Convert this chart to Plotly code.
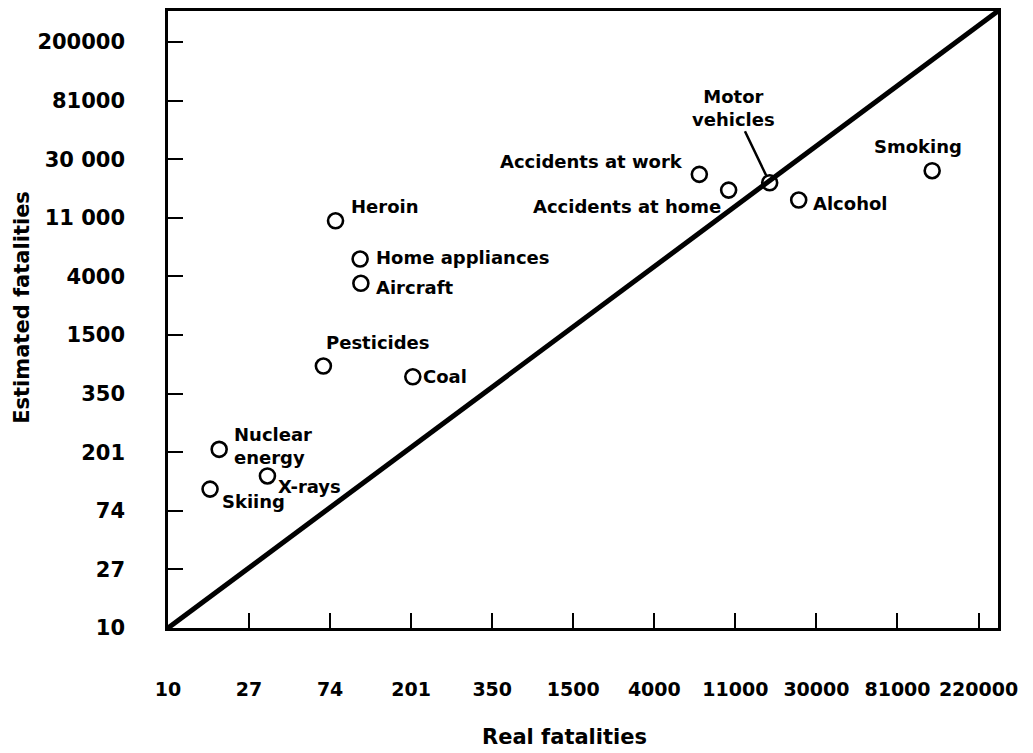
import math
import plotly.graph_objects as go

# ---- data ----
hazards = ["Heroin", "Home appliances", "Aircraft", "Pesticides", "Coal",
           "Accidents at work", "Accidents at home", "Motor vehicles",
           "Smoking", "Alcohol", "Nuclear energy", "X-rays", "Skiing"]
real_fatalities = [79, 107, 108, 68, 205, 7030, 10090, 16740, 124300, 23950, 18.8, 34.1, 16.8]
estimated_fatalities = [10430, 5430, 3590, 874, 728, 23030, 17600, 19960, 24500, 14860, 211, 134, 107]

x_tick_labels = ["10", "27", "74", "201", "350", "1500", "4000", "11000", "30000", "81000", "220000"]
y_tick_labels = ["10", "27", "74", "201", "350", "1500", "4000", "11 000", "30 000", "81000", "200000"]
# ticks are at 10*e^k (natural-log spaced scale)
tick_values = [10 * math.e ** k for k in range(11)]

# label placement (styling): anchor, xshift, yshift
label_style = {
    "Heroin": ("left", 13, 14),
    "Home appliances": ("left", 14, 2),
    "Aircraft": ("left", 13, -4),
    "Pesticides": ("left", 1, 24),
    "Coal": ("left", 8, 0),
    "Accidents at work": ("right", -14, 13),
    "Accidents at home": ("right", -6, -16),
    "Smoking": ("center", -14, 24),
    "Alcohol": ("left", 12, -3),
    "Nuclear energy": ("left", 13, 3),
    "X-rays": ("left", 9, -11),
    "Skiing": ("left", 10, -12),
}

FONT = "DejaVu Sans"
LBL = dict(family=FONT, size=18, color="black", weight="bold")
fig = go.Figure()

fig.add_trace(go.Scatter(
    x=real_fatalities, y=estimated_fatalities, mode="markers",
    marker=dict(symbol="circle-open", size=15, color="black", line=dict(width=2.6)),
    hoverinfo="text", text=hazards, showlegend=False,
))

# diagonal reference line (corner to corner)
fig.add_shape(type="line", xref="paper", yref="paper", x0=0, y0=0, x1=1, y1=1,
              line=dict(color="black", width=5), layer="below")

annos = []
for name, xv, yv in zip(hazards, real_fatalities, estimated_fatalities):
    if name == "Motor vehicles":
        annos.append(dict(x=math.log10(xv), y=math.log10(yv), xref="x", yref="y",
                          text="Motor<br>vehicles", showarrow=True, arrowhead=0,
                          arrowwidth=2.5, arrowcolor="black", ax=-36, ay=-75,
                          standoff=8, font=LBL, align="center"))
        continue
    anchor, xs, ys = label_style[name]
    text = "Nuclear<br>energy" if name == "Nuclear energy" else name
    annos.append(dict(x=math.log10(xv), y=math.log10(yv), xref="x", yref="y",
                      text=text, showarrow=False, xanchor=anchor, yanchor="middle",
                      xshift=xs, yshift=ys, align="left", font=LBL))

# axis titles
TTL = dict(family=FONT, size=21, color="black", weight="bold")
annos.append(dict(text="Real fatalities", xref="paper", yref="paper", x=0.478, y=0,
                  yshift=-109, showarrow=False, xanchor="center", yanchor="middle", font=TTL))
annos.append(dict(text="Estimated fatalities", xref="paper", yref="paper", x=0, y=0.519,
                  xshift=-146, showarrow=False, xanchor="center", yanchor="middle",
                  textangle=-90, font=TTL))
fig.update_layout(annotations=annos)

axis_common = dict(type="log", showgrid=False, zeroline=False, showline=True,
                   linecolor="black", linewidth=2.5, mirror=True,
                   ticks="inside", ticklen=15, tickwidth=2, tickcolor="black",
                   tickmode="array", tickvals=tick_values, automargin=False,
                   tickangle=0)

fig.update_xaxes(**axis_common, ticktext=x_tick_labels,
                 range=[1, 1 + 10.24 * math.log10(math.e)],
                 ticklabelstandoff=42,
                 tickfont=dict(family=FONT, size=19, color="black", weight="bold"))
fig.update_yaxes(**axis_common, ticktext=y_tick_labels,
                 range=[1, 1 + 10.53 * math.log10(math.e)],
                 ticklabelstandoff=36,
                 tickfont=dict(family=FONT, size=21, color="black", weight="bold"))

# page body adds an ~8px offset; compensate so the plot lands where the reference has it
fig.update_layout(
    width=1025, height=745,
    margin=dict(l=160, r=35, t=3, b=125),
    paper_bgcolor="white", plot_bgcolor="white",
    font=dict(family=FONT, color="black"),
)

fig.write_html("out.html")
